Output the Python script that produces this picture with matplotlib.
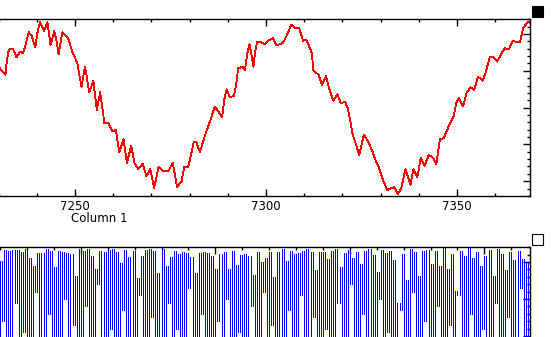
import matplotlib
matplotlib.use("Agg")
import matplotlib.pyplot as plt
from matplotlib.ticker import MultipleLocator
from matplotlib.patches import Rectangle
import numpy as np

# ---------------- data: top panel (red trace) ----------------
top_x = [7229.8, 7231.8, 7232.0, 7232.5, 7232.9, 7233.8, 7234.7, 7235.7, 7236.4, 7237.0,
         7237.9, 7238.6, 7239.6, 7240.2, 7240.8, 7241.9, 7242.8, 7243.6, 7244.6, 7245.2,
         7245.7, 7246.7, 7248.2, 7249.3, 7250.6, 7251.7, 7252.6, 7253.0, 7253.7, 7254.8,
         7255.7, 7256.6, 7257.7, 7258.7, 7259.8, 7260.7, 7261.6, 7262.7, 7263.6, 7264.7,
         7265.6, 7266.6, 7267.7, 7268.7, 7269.7, 7270.7, 7271.9, 7273.0, 7274.5, 7275.6,
         7276.7, 7277.9, 7278.6, 7279.6, 7280.2, 7281.1, 7281.7, 7282.7, 7284.2, 7285.5,
         7286.6, 7287.8, 7288.5, 7289.1, 7289.7, 7290.5, 7291.6, 7292.2, 7292.7, 7293.8,
         7294.5, 7295.1, 7295.7, 7296.2, 7296.7, 7297.1, 7297.7, 7298.6, 7299.7, 7300.6,
         7301.8, 7302.7, 7303.6, 7304.5, 7305.3, 7306.6, 7307.6, 7308.7, 7309.7, 7310.6,
         7311.3, 7312.0, 7312.4, 7313.1, 7313.7, 7314.6, 7315.7, 7316.4, 7317.6, 7318.7,
         7319.6, 7320.7, 7321.4, 7322.0, 7322.7, 7323.6, 7324.4, 7325.6, 7326.6, 7327.7,
         7328.8, 7329.7, 7330.6, 7331.7, 7332.8, 7333.6, 7334.5, 7335.4, 7336.5, 7337.8,
         7338.6, 7339.6, 7340.5, 7341.5, 7342.6, 7343.7, 7344.6, 7345.5, 7346.5, 7347.4,
         7348.1, 7349.1, 7349.8, 7350.5, 7351.6, 7352.5, 7353.6, 7354.5, 7355.5, 7356.7,
         7357.5, 7358.6, 7359.5, 7360.5, 7361.4, 7362.5, 7363.6, 7364.6, 7365.6, 7366.5,
         7367.3, 7368.1, 7368.7, 7369.1]
top_y = [3.13, 2.89, 3.13, 3.49, 3.59, 3.59, 3.37, 3.52, 3.48, 3.68,
         4.05, 3.96, 3.64, 4.05, 4.32, 4.08, 4.32, 3.70, 4.08, 3.79,
         3.45, 4.05, 3.89, 3.52, 3.21, 2.57, 3.11, 2.89, 2.41, 2.73,
         1.94, 2.42, 1.58, 1.58, 1.35, 1.39, 0.78, 1.14, 0.49, 0.97,
         0.49, 0.33, 0.47, 0.14, 0.33, -0.19, 0.40, 0.28, 0.28, 0.51,
         -0.16, 0.00, 0.40, 0.38, 0.63, 1.08, 1.08, 0.79, 1.30, 1.67,
         2.03, 1.85, 1.74, 2.23, 2.50, 2.28, 2.32, 2.62, 3.07, 3.11,
         3.02, 3.48, 3.72, 3.43, 3.11, 3.48, 3.79, 3.78, 3.73, 3.82,
         3.89, 3.70, 3.72, 3.77, 3.93, 4.25, 4.16, 4.16, 3.82, 3.84,
         3.66, 3.48, 3.02, 2.93, 2.92, 2.62, 2.86, 2.57, 2.19, 2.36,
         2.12, 2.16, 1.98, 1.67, 1.26, 0.99, 0.71, 1.26, 1.10, 0.85,
         0.54, 0.33, 0.04, -0.24, -0.19, -0.16, -0.35, -0.19, 0.33, -0.10,
         0.33, 0.10, 0.63, 0.42, 0.71, 0.64, 0.46, 1.14, 1.17, 1.39,
         1.56, 1.76, 2.12, 2.26, 2.03, 2.41, 2.55, 2.48, 2.84, 2.73,
         2.95, 3.39, 3.37, 3.25, 3.43, 3.61, 3.59, 3.82, 3.78, 3.78,
         4.16, 4.27, 4.34, 4.31]

# ---------------- data: bottom panel (dense blue trace) ----------------
bottom_peaks = [
    20.3, 23.2, 23.0, 23.2, 23.2, 22.7, 23.5, 21.1, 18.9, 22.4, 22.4, 23.5,
    23.0, 18.6, 23.0, 22.7, 22.4, 22.2, 16.2, 23.5, 23.0, 23.5, 21.6, 18.1,
    23.0, 22.7, 23.2, 23.5, 22.7, 19.7, 23.2, 21.4, 23.0, 15.7, 21.6, 23.2,
    23.5, 23.0, 17.0, 23.5, 18.9, 21.4, 23.0, 22.2, 22.7, 22.4, 21.4, 17.0,
    22.4, 22.7, 22.4, 21.6, 18.1, 22.2, 22.7, 18.1, 23.0, 19.2, 21.9, 22.2,
    21.6, 16.5, 22.7, 20.0, 21.1, 22.7, 15.9, 22.7, 23.5, 20.3, 23.0, 22.2,
    22.4, 23.0, 23.5, 22.7, 17.8, 22.7, 22.7, 20.8, 23.0, 23.5, 18.6, 22.4,
    23.2, 21.1, 22.7, 19.5, 23.0, 23.5, 21.9, 17.3, 23.2, 22.4, 23.0, 20.5,
    8.9, 22.2, 15.1, 23.5, 22.7, 16.2, 23.0, 23.2, 19.5, 23.0, 18.9, 24.0,
    18.1, 22.2, 12.2, 23.0, 21.6, 23.8, 21.1, 22.7, 18.9, 21.6, 23.2, 16.2,
    23.5, 22.2, 17.8, 22.7, 20.5, 23.0, 20.8, 20.0]
bottom_troughs = [
    -3, 4, -3, -3, 9, -3, 1, -3, -3, 12, -3, -3, 6, -3, -3, -3, 10, -3, 3, -3,
    -3, 8, -3, -3, 14, -3, -3, 2, -3, -3, 7, -3, -3, -3, 11, -3, -3, 5, -3, -3,
    -3, 9, -3, 2, -3, -3, 13, -3, -3, 6, -3, -3, -3, 4, -3, 10, -3, -3, 1, -3,
    -3, 8, -3, -3, 12, -3, 3, -3, -3, -3, 7, -3, -3, 11, -3, -3, 5, -3, -3, 2,
    -3, -3, 9, -3, -3, 14, -3, -3, 6, -3, -3, -3, 10, -3, 1, -3, -3, 7, -3, -3,
    12, -3, -3, 4, -3, -3, 8, -3, -3, 3, -3, 11, -3, -3, 6, -3, -3, 2, -3, -3,
    9, -3, -3, 5, -3, -3, 13, -3, -3]

# ---------------- figure ----------------
W, H = 558, 337
fig = plt.figure(figsize=(W / 100, H / 100), dpi=100)
plt.rcParams['font.family'] = ['DejaVu Sans']

# top axes
ax1 = fig.add_axes([-2 / W, (H - 196.3) / H, 532 / W, 177 / H])
ax1.plot(top_x, top_y, color='#ff0000', lw=0.6, antialiased=False)
ax1.set_xlim(7229.85, 7369.1)
ax1.set_ylim(-0.41, 4.40)
ax1.xaxis.set_major_locator(MultipleLocator(50))
ax1.xaxis.set_minor_locator(MultipleLocator(10))
ax1.yaxis.set_major_locator(MultipleLocator(1))
ax1.yaxis.set_minor_locator(MultipleLocator(0.2))
ax1.spines['left'].set_visible(False)
for s in ('top', 'bottom', 'right'):
    ax1.spines[s].set_linewidth(1.0)
ax1.tick_params(axis='x', which='both', direction='in', top=True, bottom=True,
                labelbottom=True, labeltop=False, width=1.0, labelsize=8.5, pad=3)
ax1.tick_params(axis='x', which='major', length=5)
ax1.tick_params(axis='x', which='minor', length=2.5)
ax1.tick_params(axis='y', which='both', direction='in', left=False, right=True,
                labelleft=False, labelright=False, width=1.0)
ax1.tick_params(axis='y', which='major', length=5)
ax1.tick_params(axis='y', which='minor', length=2.5)
ax1.set_facecolor('white')

# bottom axes: top at px 247, extends below the figure
ax2 = fig.add_axes([-2 / W, (H - 354.5) / H, 532 / W, 107.5 / H])
vals = []
for i in range(len(bottom_peaks)):
    vals.append(bottom_troughs[i])
    vals.append(bottom_peaks[i])
vals.append(bottom_troughs[len(bottom_peaks)])
vals = np.array(vals, dtype=float)
bx = np.arange(len(vals)) + 26
lo = np.minimum(vals[:-1], vals[1:])
hi = np.maximum(vals[:-1], vals[1:])
ax2.vlines(bx[:-1], lo, hi, color='#0000ff', lw=0.72, antialiased=False)
ax2.set_xlim(25, 25 + 530 / 2.062)
ax2.set_ylim(-5, 24.05)
ax2.xaxis.set_major_locator(MultipleLocator(65))
ax2.xaxis.set_minor_locator(MultipleLocator(13))
ax2.yaxis.set_major_locator(MultipleLocator(10))
ax2.yaxis.set_minor_locator(MultipleLocator(2))
ax2.spines['left'].set_visible(False)
ax2.spines['bottom'].set_visible(False)
for s in ('top', 'right'):
    ax2.spines[s].set_linewidth(1.0)
ax2.tick_params(axis='x', which='both', direction='in', top=True, bottom=False,
                labelbottom=False, labeltop=False, width=1.0)
ax2.tick_params(axis='x', which='major', length=5)
ax2.tick_params(axis='x', which='minor', length=2.5)
ax2.tick_params(axis='y', which='both', direction='in', left=False, right=True,
                labelleft=False, labelright=False, width=1.0)
ax2.tick_params(axis='y', which='major', length=5)
ax2.tick_params(axis='y', which='minor', length=2.5)

# label and corner squares
fig.text(71 / W, 1 - 218.5 / H, 'Column 1', ha='left', va='center', fontsize=8.5)
fig.patches.append(Rectangle((532 / W, 1 - 17 / H), 11 / W, 11 / H,
                             transform=fig.transFigure, facecolor='black',
                             edgecolor='black', lw=0.8))
fig.patches.append(Rectangle((532 / W, 1 - 245 / H), 11 / W, 11 / H,
                             transform=fig.transFigure, facecolor='white',
                             edgecolor='black', lw=0.8))

fig.savefig('out.png', dpi=100, facecolor='white')
